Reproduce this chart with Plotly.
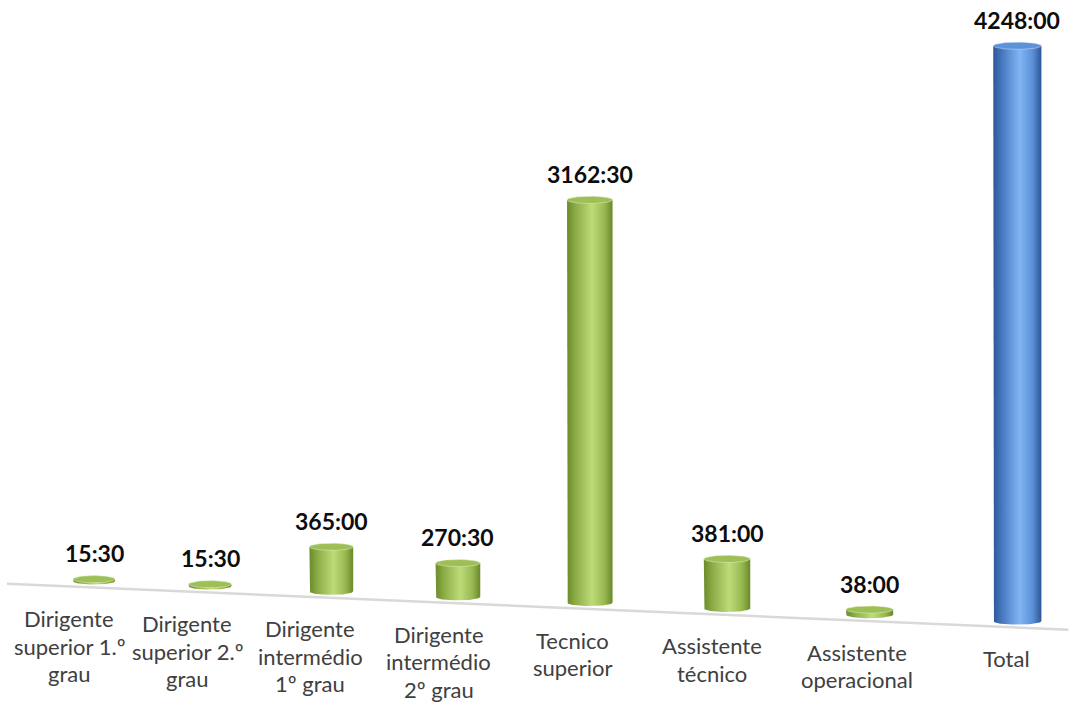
import numpy as np
import plotly.graph_objects as go

# ---------------- data ----------------
categories = [
    "Dirigente<br>superior 1.º<br>grau",
    "Dirigente<br>superior 2.º<br>grau",
    "Dirigente<br>intermédio<br>1º grau",
    "Dirigente<br>intermédio<br>2º grau",
    "Tecnico<br>superior",
    "Assistente<br>técnico",
    "Assistente<br>operacional",
    "Total",
]
hours = [15.5, 15.5, 365.0, 270.5, 3162.5, 381.0, 38.0, 4248.0]
series_kind = ["grupo"] * 7 + ["total"]


def hhmm(h):
    m = int(round(h * 60))
    return f"{m // 60}:{m % 60:02d}"


value_labels = [hhmm(h) for h in hours]

# ---------------- styling / pseudo-3D projection ----------------
W, H = 1070, 704
PX_X = 116.0          # pixels per category step (front)
X0_PX = 94.0          # pixel position of first category
PX_Y = 0.1165         # pixels per hour at the front-left
FLOOR_PX = 581.0      # pixel row of the floor under the first bar
SPREAD = 0.0457       # perspective widening of the category spacing
DEPTH_GROW = 0.0232   # perspective growth of vertical scale
FLOOR_SLOPE_PX = 5.03 # floor drop (px) per x unit

GREEN_SCALE = [[0, "#6c8b2b"], [0.18, "#8aab45"], [0.55, "#bddc79"], [0.82, "#98b951"], [1, "#6a882a"]]
BLUE_SCALE = [[0, "#2c5896"], [0.18, "#4677bf"], [0.55, "#80b6f3"], [0.82, "#5a8fd8"], [1, "#2c5794"]]
CAP = {"grupo": "#9dbf56", "total": "#5d92da"}
SCALE = {"grupo": GREEN_SCALE, "total": BLUE_SCALE}

FONT = "Lato, 'Open Sans', sans-serif"


def xpos(i):
    return i + SPREAD * i * (i - 1) / 2


def floor_y(X):
    return -FLOOR_SLOPE_PX / PX_Y * X


def ypx(p):
    return p / PX_Y


def xpx(p):
    return p / PX_X


fig = go.Figure()
annotations = []

t_front = np.linspace(np.pi, 2 * np.pi, 40)
t_full = np.linspace(0, 2 * np.pi, 80)

for i, (cat, h, lab, kind) in enumerate(zip(categories, hours, value_labels, series_kind)):
    X = xpos(i)
    k = 1 + DEPTH_GROW * i
    hw = xpx(21.0) * (1 + 0.021 * i)
    ry = ypx(3.6)
    base = floor_y(X)
    top = base + h * k

    # cylinder body
    bx = [X - hw] + list(X + hw * np.cos(t_front)) + [X + hw, X - hw]
    by = [top] + list(base + ry * np.sin(t_front)) + [top, top]
    fig.add_trace(go.Scatter(
        x=bx, y=by, mode="lines", fill="toself",
        line=dict(width=0, color=CAP[kind]),
        fillgradient=dict(type="horizontal", colorscale=SCALE[kind]),
        hoverinfo="skip", showlegend=False,
    ))
    # top cap
    fig.add_trace(go.Scatter(
        x=list(X + hw * np.cos(t_full)), y=list(top + ry * np.sin(t_full)),
        mode="lines", fill="toself", fillcolor=CAP[kind],
        line=dict(width=0.8, color="rgba(230,240,210,0.6)" if kind == "grupo" else "rgba(210,225,245,0.6)"),
        hoverinfo="skip", showlegend=False,
    ))

    # value label
    annotations.append(dict(
        x=X, y=top, xref="x", yref="y", yanchor="bottom", yshift=10,
        text=f"<b>{lab}</b>", showarrow=False,
        font=dict(family=FONT, size=23, color="#0d0d0d"),
    ))
    # category label (one annotation per line for Excel-like line spacing)
    for j, line in enumerate(cat.split("<br>")):
        annotations.append(dict(
            x=X, y=base, xref="x", yref="y", yanchor="top",
            xshift=-(25 - 2 * i), yshift=-(22 + 27.5 * j),
            text=line, showarrow=False,
            font=dict(family=FONT, size=22, color="#404040"),
        ))

# floor line
xl, xr = -0.75, 8.4
fig.add_shape(type="line", xref="x", yref="y",
              x0=xl, y0=floor_y(xl) - ypx(6.5), x1=xr, y1=floor_y(xr) - ypx(6.5),
              line=dict(color="#d9d9d9", width=2.5), layer="below")

fig.update_layout(
    width=W, height=H,
    margin=dict(l=0, r=0, t=0, b=0),
    paper_bgcolor="white", plot_bgcolor="white",
    xaxis=dict(range=[-X0_PX / PX_X, (W - X0_PX) / PX_X], visible=False, fixedrange=True),
    yaxis=dict(range=[-(H - FLOOR_PX) / PX_Y, FLOOR_PX / PX_Y], visible=False, fixedrange=True),
    annotations=annotations,
    showlegend=False,
)

fig.write_html("out.html", config={"displayModeBar": False},
               post_script="document.body.style.margin='0px';document.body.style.overflow='hidden';")
